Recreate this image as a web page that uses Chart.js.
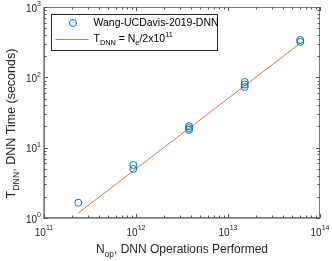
<!DOCTYPE html>
<html>
<head>
<meta charset="utf-8">
<script src="https://cdn.jsdelivr.net/npm/chart.js@4/dist/chart.umd.min.js"></script>
<style>
  body { margin: 0; background: #fff; }
  #grafic { display: block; }
</style>
</head>
<body>
<canvas id="grafic" width="332" height="261"></canvas>
<script>
// measured DNN runs (ops performed, seconds)
let opsX = [2.36e11, 9.35e11, 9.35e11, 3.77e12, 3.77e12, 3.77e12, 1.52e13, 1.52e13, 1.52e13, 6.1e13, 6.1e13];
let timeY = [1.65, 5.67, 4.98, 20.2, 19.0, 17.9, 86, 79, 73, 340, 319];

// fitted line T = N/2x10^11, end points
let fitX = [2.36e11, 6.1e13];
let fitY = [1.18, 305];

let xDecades = [11, 12, 13, 14];
let yDecades = [0, 1, 2, 3];

let seriesName = "Wang-UCDavis-2019-DNN";
let blue = "#0072BD";
let orange = "rgba(217,83,25,0.8)";
let FONT = "'Liberation Sans', Arial, sans-serif";

// draws a list of [text, kind] runs, kind 0 normal, 1 superscript, -1 subscript
function runsWidth(ctx, runs, size) {
  let w = 0;
  runs.forEach((r) => {
    ctx.font = (r[1] == 0 ? size : size * 0.7) + "px " + FONT;
    w += ctx.measureText(r[0]).width;
  });
  return w;
}
function drawRuns(ctx, runs, x, y, size, align) {
  let w = runsWidth(ctx, runs, size);
  if (align == "center") x -= w / 2;
  if (align == "right") x -= w;
  ctx.textAlign = "left";
  ctx.textBaseline = "middle";
  runs.forEach((r) => {
    let s = r[1] == 0 ? size : size * 0.7;
    ctx.font = s + "px " + FONT;
    let dy = r[1] == 1 ? -size * 0.45 : r[1] == -1 ? size * 0.35 : 0;
    ctx.fillText(r[0], x, y + dy);
    x += ctx.measureText(r[0]).width;
  });
}

const matlabAxes = {
  id: "matlabAxes",
  afterDraw(chart) {
    const ctx = chart.ctx;
    const a = chart.chartArea;
    const sx = chart.scales.x;
    const sy = chart.scales.y;
    ctx.save();

    // box
    ctx.strokeStyle = "#7a7a7a";
    ctx.lineWidth = 1;
    ctx.strokeRect(a.left + 0.5, a.top + 0.5, a.right - a.left - 1, a.bottom - a.top - 1);
    // left and bottom look heavier in the picture
    ctx.beginPath();
    ctx.moveTo(a.left - 0.5, a.top);
    ctx.lineTo(a.left - 0.5, a.bottom + 0.5);
    ctx.lineTo(a.right, a.bottom + 0.5);
    ctx.strokeStyle = "#a0a0a0";
    ctx.stroke();

    // ticks pointing inward on all four sides
    ctx.strokeStyle = "#555";
    ctx.beginPath();
    xDecades.forEach((d) => {
      for (let m = 1; m < 10; m++) {
        let v = m * Math.pow(10, d);
        if (v > sx.max * 1.0001) break;
        let px = Math.round(sx.getPixelForValue(v)) + 0.5;
        let len = m == 1 ? 4 : 2.5;
        ctx.moveTo(px, a.bottom);
        ctx.lineTo(px, a.bottom - len);
        ctx.moveTo(px, a.top);
        ctx.lineTo(px, a.top + len);
      }
    });
    yDecades.forEach((d) => {
      for (let m = 1; m < 10; m++) {
        let v = m * Math.pow(10, d);
        if (v > sy.max * 1.0001) break;
        let py = Math.round(sy.getPixelForValue(v)) + 0.5;
        let len = m == 1 ? 4 : 2.5;
        ctx.moveTo(a.left, py);
        ctx.lineTo(a.left + len, py);
        ctx.moveTo(a.right, py);
        ctx.lineTo(a.right - len, py);
      }
    });
    ctx.stroke();

    // tick labels
    ctx.fillStyle = "#262626";
    xDecades.forEach((d) => {
      let px = sx.getPixelForValue(Math.pow(10, d));
      drawRuns(ctx, [["10", 0], [String(d), 1]], px, a.bottom + 15, 10, "center");
    });
    yDecades.forEach((d) => {
      let py = sy.getPixelForValue(Math.pow(10, d));
      drawRuns(ctx, [["10", 0], [String(d), 1]], a.left - 3, py + 2, 10, "right");
    });

    // axis titles
    drawRuns(ctx, [["N", 0], ["op", -1], [", DNN Operations Performed", 0]],
      (a.left + a.right) / 2, a.bottom + 32, 12, "center");
    ctx.save();
    ctx.translate(12, (a.top + a.bottom) / 2 + 11);
    ctx.rotate(-Math.PI / 2);
    drawRuns(ctx, [["T", 0], ["DNN", -1], [", DNN Time (seconds)", 0]], 0, 0, 12.5, "center");
    ctx.restore();

    // legend
    let lx = a.left + 7.5, ly = a.top + 7.5, lw = 166, lh = 36;
    ctx.fillStyle = "#fff";
    ctx.fillRect(lx, ly, lw, lh);
    ctx.strokeStyle = "#262626";
    ctx.strokeRect(lx, ly, lw, lh);
    ctx.strokeStyle = blue;
    ctx.beginPath();
    ctx.arc(lx + 21.5, ly + 8.5, 3.5, 0, Math.PI * 2);
    ctx.stroke();
    ctx.strokeStyle = orange;
    ctx.beginPath();
    ctx.moveTo(lx + 4, ly + 25);
    ctx.lineTo(lx + 37, ly + 25);
    ctx.stroke();
    ctx.fillStyle = "#000";
    drawRuns(ctx, [[seriesName, 0]], lx + 42, ly + 9, 10.5, "left");
    drawRuns(ctx, [["T", 0], ["DNN", -1], [" = N", 0], ["e", -1], ["/2x10", 0], ["11", 1]],
      lx + 42, ly + 25, 10.5, "left");
    ctx.restore();
  },
};

const ctx = document.getElementById("grafic").getContext("2d");
let grafic = new Chart(ctx, {
  type: "scatter",
  data: {
    datasets: [
      {
        label: seriesName,
        data: opsX.map((x, i) => ({ x: x, y: timeY[i] })),
        showLine: false,
        pointStyle: "circle",
        pointRadius: 3.5,
        pointBorderWidth: 1,
        borderColor: blue,
        backgroundColor: "rgba(0,0,0,0)",
      },
      {
        label: "fit",
        data: fitX.map((x, i) => ({ x: x, y: fitY[i] })),
        showLine: true,
        pointRadius: 0,
        borderWidth: 1,
        borderColor: orange,
      },
    ],
  },
  options: {
    responsive: false,
    animation: false,
    devicePixelRatio: 1,
    layout: { padding: { top: 7, right: 12, left: 0, bottom: 0 } },
    plugins: { legend: { display: false }, tooltip: { enabled: false } },
    scales: {
      x: {
        type: "logarithmic",
        min: 1e11,
        max: 1e14,
        ticks: { display: false },
        grid: { display: false },
        border: { display: false },
        afterFit: (s) => { s.height = 43; },
      },
      y: {
        type: "logarithmic",
        min: 1,
        max: 1000,
        ticks: { display: false },
        grid: { display: false },
        border: { display: false },
        afterFit: (s) => { s.width = 44; },
      },
    },
  },
  plugins: [matlabAxes],
});
</script>
</body>
</html>
